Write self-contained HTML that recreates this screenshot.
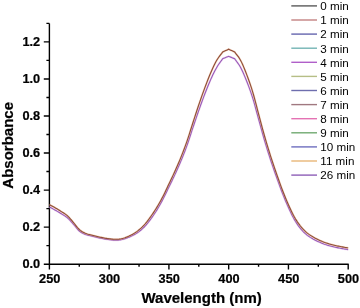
<!DOCTYPE html>
<html><head><meta charset="utf-8"><style>
html,body{margin:0;padding:0;background:#fff;width:360px;height:308px;overflow:hidden}
svg{display:block;will-change:transform}
text{font-family:"Liberation Sans",sans-serif;fill:#000}
.tl,.at{stroke:#000;stroke-width:0.22px}
.tl{font-size:12.75px;font-weight:bold}
.at{font-size:15px;font-weight:bold}
.lg{font-size:11.65px}
</style></head><body>
<svg width="360" height="308" viewBox="0 0 360 308">
<path d="M49.4,264.2 H348.7 M49.4,264.95 V23.4" stroke="#000" stroke-width="1.4" fill="none"/>
<path d="M49.4,264.20 h-5.6 M49.4,245.67 h-3.0 M49.4,227.15 h-5.6 M49.4,208.62 h-3.0 M49.4,190.10 h-5.6 M49.4,171.57 h-3.0 M49.4,153.05 h-5.6 M49.4,134.52 h-3.0 M49.4,116.00 h-5.6 M49.4,97.47 h-3.0 M49.4,78.95 h-5.6 M49.4,60.42 h-3.0 M49.4,41.90 h-5.6 M49.4,23.37 h-3.0 M49.40,264.2 v5.2 M79.28,264.2 v2.6 M109.16,264.2 v5.2 M139.04,264.2 v2.6 M168.92,264.2 v5.2 M198.80,264.2 v2.6 M228.68,264.2 v5.2 M258.56,264.2 v2.6 M288.44,264.2 v5.2 M318.32,264.2 v2.6 M348.20,264.2 v5.2" stroke="#000" stroke-width="1.4" fill="none"/>
<text x="40.2" y="268.10" text-anchor="end" class="tl">0.0</text>
<text x="40.2" y="231.05" text-anchor="end" class="tl">0.2</text>
<text x="40.2" y="194.00" text-anchor="end" class="tl">0.4</text>
<text x="40.2" y="156.95" text-anchor="end" class="tl">0.6</text>
<text x="40.2" y="119.90" text-anchor="end" class="tl">0.8</text>
<text x="40.2" y="82.85" text-anchor="end" class="tl">1.0</text>
<text x="40.2" y="45.80" text-anchor="end" class="tl">1.2</text>
<text x="49.70" y="282.8" text-anchor="middle" class="tl">250</text>
<text x="109.46" y="282.8" text-anchor="middle" class="tl">300</text>
<text x="169.22" y="282.8" text-anchor="middle" class="tl">350</text>
<text x="228.98" y="282.8" text-anchor="middle" class="tl">400</text>
<text x="288.74" y="282.8" text-anchor="middle" class="tl">450</text>
<text x="348.50" y="282.8" text-anchor="middle" class="tl">500</text>
<text x="201.6" y="302.9" text-anchor="middle" class="at">Wavelength (nm)</text>
<text transform="translate(12.7,145.3) rotate(-90)" x="0" y="0" text-anchor="middle" class="at">Absorbance</text>
<path d="M49.40,207.04 L50.40,207.56 L51.39,208.08 L52.39,208.60 L53.38,209.13 L54.38,209.67 L55.38,210.22 L56.37,210.79 L57.37,211.37 L58.36,211.96 L59.36,212.56 L60.36,213.17 L61.35,213.79 L62.35,214.40 L63.34,214.99 L64.34,215.60 L65.34,216.24 L66.33,216.94 L67.33,217.75 L68.32,218.66 L69.32,219.67 L70.32,220.74 L71.31,221.86 L72.31,222.98 L73.30,224.10 L74.30,225.25 L75.30,226.47 L76.29,227.71 L77.29,228.90 L78.28,230.00 L79.28,230.96 L80.28,231.75 L81.27,232.42 L82.27,233.01 L83.26,233.51 L84.26,233.97 L85.26,234.40 L86.25,234.78 L87.25,235.09 L88.24,235.35 L89.24,235.58 L90.24,235.80 L91.23,236.04 L92.23,236.30 L93.22,236.54 L94.22,236.78 L95.22,237.01 L96.21,237.24 L97.21,237.47 L98.20,237.69 L99.20,237.91 L100.20,238.13 L101.19,238.33 L102.19,238.53 L103.18,238.72 L104.18,238.91 L105.18,239.09 L106.17,239.26 L107.17,239.41 L108.16,239.56 L109.16,239.69 L110.16,239.81 L111.15,239.92 L112.15,240.02 L113.14,240.10 L114.14,240.16 L115.14,240.18 L116.13,240.17 L117.13,240.15 L118.12,240.09 L119.12,240.01 L120.12,239.89 L121.11,239.72 L122.11,239.52 L123.10,239.27 L124.10,238.98 L125.10,238.67 L126.09,238.33 L127.09,237.97 L128.08,237.60 L129.08,237.21 L130.08,236.79 L131.07,236.34 L132.07,235.86 L133.06,235.35 L134.06,234.81 L135.06,234.23 L136.05,233.63 L137.05,232.99 L138.04,232.30 L139.04,231.57 L140.04,230.79 L141.03,229.98 L142.03,229.12 L143.02,228.22 L144.02,227.25 L145.02,226.22 L146.01,225.12 L147.01,223.95 L148.00,222.72 L149.00,221.45 L150.00,220.13 L150.99,218.78 L151.99,217.39 L152.98,215.97 L153.98,214.51 L154.98,213.00 L155.97,211.45 L156.97,209.84 L157.96,208.19 L158.96,206.49 L159.96,204.75 L160.95,202.96 L161.95,201.12 L162.94,199.24 L163.94,197.30 L164.94,195.30 L165.93,193.25 L166.93,191.17 L167.92,189.09 L168.92,187.03 L169.92,184.99 L170.91,182.95 L171.91,180.91 L172.90,178.85 L173.90,176.76 L174.90,174.63 L175.89,172.47 L176.89,170.29 L177.88,168.07 L178.88,165.82 L179.88,163.52 L180.87,161.16 L181.87,158.75 L182.86,156.30 L183.86,153.81 L184.86,151.25 L185.85,148.62 L186.85,145.90 L187.84,143.05 L188.84,140.10 L189.84,137.06 L190.83,134.00 L191.83,130.94 L192.82,127.94 L193.82,124.98 L194.82,122.01 L195.81,119.06 L196.81,116.13 L197.80,113.23 L198.80,110.38 L199.80,107.57 L200.79,104.79 L201.79,102.04 L202.78,99.34 L203.78,96.68 L204.78,94.07 L205.77,91.50 L206.77,88.96 L207.76,86.47 L208.76,84.03 L209.76,81.67 L210.75,79.40 L211.75,77.21 L212.74,75.09 L213.74,73.05 L214.74,71.09 L215.73,69.21 L216.73,67.44 L217.72,65.79 L218.72,64.29 L219.72,62.87 L220.71,61.49 L221.71,60.12 L222.70,58.70 L223.70,58.30 L224.70,57.90 L225.69,57.50 L226.69,57.10 L227.68,56.70 L228.68,56.30 L229.68,56.72 L230.67,57.13 L231.67,57.55 L232.66,57.97 L233.66,58.38 L234.66,58.80 L235.65,60.20 L236.65,61.53 L237.64,62.87 L238.64,64.27 L239.64,65.80 L240.63,67.53 L241.63,69.47 L242.62,71.57 L243.62,73.80 L244.62,76.13 L245.61,78.56 L246.61,81.04 L247.60,83.57 L248.60,86.17 L249.60,88.85 L250.59,91.64 L251.59,94.56 L252.58,97.64 L253.58,100.93 L254.58,104.42 L255.57,108.05 L256.57,111.74 L257.56,115.44 L258.56,119.06 L259.56,122.66 L260.55,126.29 L261.55,129.92 L262.54,133.52 L263.54,137.06 L264.54,140.50 L265.53,143.85 L266.53,147.14 L267.52,150.36 L268.52,153.53 L269.52,156.65 L270.51,159.72 L271.51,162.74 L272.50,165.69 L273.50,168.60 L274.50,171.46 L275.49,174.29 L276.49,177.10 L277.48,179.90 L278.48,182.68 L279.48,185.43 L280.47,188.13 L281.47,190.78 L282.46,193.36 L283.46,195.87 L284.46,198.33 L285.45,200.74 L286.45,203.08 L287.44,205.37 L288.44,207.59 L289.44,209.76 L290.43,211.89 L291.43,213.96 L292.42,215.95 L293.42,217.85 L294.42,219.65 L295.41,221.33 L296.41,222.92 L297.40,224.41 L298.40,225.83 L299.40,227.16 L300.39,228.43 L301.39,229.63 L302.38,230.74 L303.38,231.77 L304.38,232.74 L305.37,233.65 L306.37,234.52 L307.36,235.32 L308.36,236.05 L309.36,236.73 L310.35,237.37 L311.35,237.97 L312.34,238.57 L313.34,239.15 L314.34,239.69 L315.33,240.21 L316.33,240.71 L317.32,241.19 L318.32,241.66 L319.32,242.12 L320.31,242.56 L321.31,242.99 L322.30,243.40 L323.30,243.79 L324.30,244.17 L325.29,244.52 L326.29,244.84 L327.28,245.15 L328.28,245.44 L329.28,245.72 L330.27,246.00 L331.27,246.27 L332.26,246.52 L333.26,246.77 L334.26,247.00 L335.25,247.23 L336.25,247.45 L337.24,247.66 L338.24,247.86 L339.24,248.05 L340.23,248.24 L341.23,248.42 L342.22,248.61 L343.22,248.79 L344.22,248.97 L345.21,249.14 L346.21,249.32 L347.20,249.49 L348.20,249.67" stroke="#e0a8e0" stroke-width="2.1" stroke-opacity="0.4" fill="none"/>
<path d="M49.40,207.04 L50.40,207.56 L51.39,208.08 L52.39,208.60 L53.38,209.13 L54.38,209.67 L55.38,210.22 L56.37,210.79 L57.37,211.37 L58.36,211.96 L59.36,212.56 L60.36,213.17 L61.35,213.79 L62.35,214.40 L63.34,214.99 L64.34,215.60 L65.34,216.24 L66.33,216.94 L67.33,217.75 L68.32,218.66 L69.32,219.67 L70.32,220.74 L71.31,221.86 L72.31,222.98 L73.30,224.10 L74.30,225.25 L75.30,226.47 L76.29,227.71 L77.29,228.90 L78.28,230.00 L79.28,230.96 L80.28,231.75 L81.27,232.42 L82.27,233.01 L83.26,233.51 L84.26,233.97 L85.26,234.40 L86.25,234.78 L87.25,235.09 L88.24,235.35 L89.24,235.58 L90.24,235.80 L91.23,236.04 L92.23,236.30 L93.22,236.54 L94.22,236.78 L95.22,237.01 L96.21,237.24 L97.21,237.47 L98.20,237.69 L99.20,237.91 L100.20,238.13 L101.19,238.33 L102.19,238.53 L103.18,238.72 L104.18,238.91 L105.18,239.09 L106.17,239.26 L107.17,239.41 L108.16,239.56 L109.16,239.69 L110.16,239.81 L111.15,239.92 L112.15,240.02 L113.14,240.10 L114.14,240.16 L115.14,240.18 L116.13,240.17 L117.13,240.15 L118.12,240.09 L119.12,240.01 L120.12,239.89 L121.11,239.72 L122.11,239.52 L123.10,239.27 L124.10,238.98 L125.10,238.67 L126.09,238.33 L127.09,237.97 L128.08,237.60 L129.08,237.21 L130.08,236.79 L131.07,236.34 L132.07,235.86 L133.06,235.35 L134.06,234.81 L135.06,234.23 L136.05,233.63 L137.05,232.99 L138.04,232.30 L139.04,231.57 L140.04,230.79 L141.03,229.98 L142.03,229.12 L143.02,228.22 L144.02,227.25 L145.02,226.22 L146.01,225.12 L147.01,223.95 L148.00,222.72 L149.00,221.45 L150.00,220.13 L150.99,218.78 L151.99,217.39 L152.98,215.97 L153.98,214.51 L154.98,213.00 L155.97,211.45 L156.97,209.84 L157.96,208.19 L158.96,206.49 L159.96,204.75 L160.95,202.96 L161.95,201.12 L162.94,199.24 L163.94,197.30 L164.94,195.30 L165.93,193.25 L166.93,191.17 L167.92,189.09 L168.92,187.03 L169.92,184.99 L170.91,182.95 L171.91,180.91 L172.90,178.85 L173.90,176.76 L174.90,174.63 L175.89,172.47 L176.89,170.29 L177.88,168.07 L178.88,165.82 L179.88,163.52 L180.87,161.16 L181.87,158.75 L182.86,156.30 L183.86,153.81 L184.86,151.25 L185.85,148.62 L186.85,145.90 L187.84,143.05 L188.84,140.10 L189.84,137.06 L190.83,134.00 L191.83,130.94 L192.82,127.94 L193.82,124.98 L194.82,122.01 L195.81,119.06 L196.81,116.13 L197.80,113.23 L198.80,110.38 L199.80,107.57 L200.79,104.79 L201.79,102.04 L202.78,99.34 L203.78,96.68 L204.78,94.07 L205.77,91.50 L206.77,88.96 L207.76,86.47 L208.76,84.03 L209.76,81.67 L210.75,79.40 L211.75,77.21 L212.74,75.09 L213.74,73.05 L214.74,71.09 L215.73,69.21 L216.73,67.44 L217.72,65.79 L218.72,64.29 L219.72,62.87 L220.71,61.49 L221.71,60.12 L222.70,58.70 L223.70,58.30 L224.70,57.90 L225.69,57.50 L226.69,57.10 L227.68,56.70 L228.68,56.30 L229.68,56.72 L230.67,57.13 L231.67,57.55 L232.66,57.97 L233.66,58.38 L234.66,58.80 L235.65,60.20 L236.65,61.53 L237.64,62.87 L238.64,64.27 L239.64,65.80 L240.63,67.53 L241.63,69.47 L242.62,71.57 L243.62,73.80 L244.62,76.13 L245.61,78.56 L246.61,81.04 L247.60,83.57 L248.60,86.17 L249.60,88.85 L250.59,91.64 L251.59,94.56 L252.58,97.64 L253.58,100.93 L254.58,104.42 L255.57,108.05 L256.57,111.74 L257.56,115.44 L258.56,119.06 L259.56,122.66 L260.55,126.29 L261.55,129.92 L262.54,133.52 L263.54,137.06 L264.54,140.50 L265.53,143.85 L266.53,147.14 L267.52,150.36 L268.52,153.53 L269.52,156.65 L270.51,159.72 L271.51,162.74 L272.50,165.69 L273.50,168.60 L274.50,171.46 L275.49,174.29 L276.49,177.10 L277.48,179.90 L278.48,182.68 L279.48,185.43 L280.47,188.13 L281.47,190.78 L282.46,193.36 L283.46,195.87 L284.46,198.33 L285.45,200.74 L286.45,203.08 L287.44,205.37 L288.44,207.59 L289.44,209.76 L290.43,211.89 L291.43,213.96 L292.42,215.95 L293.42,217.85 L294.42,219.65 L295.41,221.33 L296.41,222.92 L297.40,224.41 L298.40,225.83 L299.40,227.16 L300.39,228.43 L301.39,229.63 L302.38,230.74 L303.38,231.77 L304.38,232.74 L305.37,233.65 L306.37,234.52 L307.36,235.32 L308.36,236.05 L309.36,236.73 L310.35,237.37 L311.35,237.97 L312.34,238.57 L313.34,239.15 L314.34,239.69 L315.33,240.21 L316.33,240.71 L317.32,241.19 L318.32,241.66 L319.32,242.12 L320.31,242.56 L321.31,242.99 L322.30,243.40 L323.30,243.79 L324.30,244.17 L325.29,244.52 L326.29,244.84 L327.28,245.15 L328.28,245.44 L329.28,245.72 L330.27,246.00 L331.27,246.27 L332.26,246.52 L333.26,246.77 L334.26,247.00 L335.25,247.23 L336.25,247.45 L337.24,247.66 L338.24,247.86 L339.24,248.05 L340.23,248.24 L341.23,248.42 L342.22,248.61 L343.22,248.79 L344.22,248.97 L345.21,249.14 L346.21,249.32 L347.20,249.49 L348.20,249.67" stroke="#985cb8" stroke-width="1.1" fill="none"/>
<path d="M49.40,204.60 L50.40,205.15 L51.39,205.69 L52.39,206.22 L53.38,206.77 L54.38,207.33 L55.38,207.90 L56.37,208.49 L57.37,209.09 L58.36,209.70 L59.36,210.32 L60.36,210.96 L61.35,211.60 L62.35,212.23 L63.34,212.84 L64.34,213.47 L65.34,214.13 L66.33,214.87 L67.33,215.70 L68.32,216.65 L69.32,217.69 L70.32,218.81 L71.31,219.96 L72.31,221.14 L73.30,222.30 L74.30,223.51 L75.30,224.79 L76.29,226.08 L77.29,227.34 L78.28,228.50 L79.28,229.50 L80.28,230.34 L81.27,231.06 L82.27,231.69 L83.26,232.24 L84.26,232.73 L85.26,233.20 L86.25,233.61 L87.25,233.95 L88.24,234.24 L89.24,234.49 L90.24,234.74 L91.23,235.00 L92.23,235.27 L93.22,235.53 L94.22,235.78 L95.22,236.03 L96.21,236.27 L97.21,236.50 L98.20,236.73 L99.20,236.96 L100.20,237.18 L101.19,237.40 L102.19,237.60 L103.18,237.80 L104.18,237.99 L105.18,238.17 L106.17,238.35 L107.17,238.51 L108.16,238.67 L109.16,238.80 L110.16,238.92 L111.15,239.04 L112.15,239.14 L113.14,239.23 L114.14,239.28 L115.14,239.30 L116.13,239.29 L117.13,239.26 L118.12,239.20 L119.12,239.11 L120.12,238.98 L121.11,238.80 L122.11,238.58 L123.10,238.31 L124.10,238.00 L125.10,237.66 L126.09,237.29 L127.09,236.90 L128.08,236.49 L129.08,236.06 L130.08,235.59 L131.07,235.10 L132.07,234.57 L133.06,234.00 L134.06,233.39 L135.06,232.76 L136.05,232.08 L137.05,231.37 L138.04,230.61 L139.04,229.80 L140.04,228.95 L141.03,228.06 L142.03,227.12 L143.02,226.14 L144.02,225.10 L145.02,224.00 L146.01,222.83 L147.01,221.60 L148.00,220.31 L149.00,218.97 L150.00,217.60 L150.99,216.20 L151.99,214.78 L152.98,213.32 L153.98,211.83 L154.98,210.30 L155.97,208.72 L156.97,207.10 L157.96,205.43 L158.96,203.71 L159.96,201.96 L160.95,200.15 L161.95,198.30 L162.94,196.40 L163.94,194.44 L164.94,192.40 L165.93,190.33 L166.93,188.22 L167.92,186.10 L168.92,184.00 L169.92,181.91 L170.91,179.83 L171.91,177.74 L172.90,175.63 L173.90,173.49 L174.90,171.30 L175.89,169.07 L176.89,166.83 L177.88,164.54 L178.88,162.22 L179.88,159.84 L180.87,157.40 L181.87,154.91 L182.86,152.38 L183.86,149.79 L184.86,147.14 L185.85,144.42 L186.85,141.60 L187.84,138.66 L188.84,135.59 L189.84,132.45 L190.83,129.27 L191.83,126.11 L192.82,123.00 L193.82,119.93 L194.82,116.86 L195.81,113.79 L196.81,110.76 L197.80,107.75 L198.80,104.80 L199.80,101.89 L200.79,99.01 L201.79,96.16 L202.78,93.36 L203.78,90.60 L204.78,87.90 L205.77,85.24 L206.77,82.60 L207.76,80.02 L208.76,77.50 L209.76,75.05 L210.75,72.70 L211.75,70.42 L212.74,68.21 L213.74,66.07 L214.74,64.03 L215.73,62.10 L216.73,60.30 L217.72,58.68 L218.72,57.23 L219.72,55.89 L220.71,54.61 L221.71,53.34 L222.70,52.00 L223.70,51.53 L224.70,51.07 L225.69,50.60 L226.69,50.13 L227.68,49.67 L228.68,49.20 L229.68,49.67 L230.67,50.13 L231.67,50.60 L232.66,51.07 L233.66,51.53 L234.66,52.00 L235.65,53.34 L236.65,54.59 L237.64,55.85 L238.64,57.19 L239.64,58.68 L240.63,60.40 L241.63,62.37 L242.62,64.53 L243.62,66.85 L244.62,69.29 L245.61,71.82 L246.61,74.40 L247.60,77.02 L248.60,79.71 L249.60,82.49 L250.59,85.38 L251.59,88.41 L252.58,91.60 L253.58,95.01 L254.58,98.63 L255.57,102.39 L256.57,106.21 L257.56,110.04 L258.56,113.80 L259.56,117.53 L260.55,121.29 L261.55,125.05 L262.54,128.78 L263.54,132.44 L264.54,136.00 L265.53,139.46 L266.53,142.85 L267.52,146.18 L268.52,149.44 L269.52,152.64 L270.51,155.80 L271.51,158.90 L272.50,161.93 L273.50,164.90 L274.50,167.83 L275.49,170.73 L276.49,173.60 L277.48,176.46 L278.48,179.30 L279.48,182.11 L280.47,184.87 L281.47,187.57 L282.46,190.20 L283.46,192.76 L284.46,195.27 L285.45,197.72 L286.45,200.11 L287.44,202.43 L288.44,204.70 L289.44,206.92 L290.43,209.09 L291.43,211.19 L292.42,213.23 L293.42,215.17 L294.42,217.00 L295.41,218.72 L296.41,220.34 L297.40,221.87 L298.40,223.32 L299.40,224.69 L300.39,226.00 L301.39,227.23 L302.38,228.38 L303.38,229.45 L304.38,230.46 L305.37,231.40 L306.37,232.30 L307.36,233.13 L308.36,233.89 L309.36,234.59 L310.35,235.25 L311.35,235.88 L312.34,236.50 L313.34,237.10 L314.34,237.66 L315.33,238.20 L316.33,238.71 L317.32,239.21 L318.32,239.70 L319.32,240.18 L320.31,240.64 L321.31,241.08 L322.30,241.51 L323.30,241.91 L324.30,242.30 L325.29,242.66 L326.29,243.00 L327.28,243.32 L328.28,243.62 L329.28,243.91 L330.27,244.20 L331.27,244.48 L332.26,244.74 L333.26,244.99 L334.26,245.24 L335.25,245.47 L336.25,245.70 L337.24,245.92 L338.24,246.13 L339.24,246.32 L340.23,246.52 L341.23,246.71 L342.22,246.90 L343.22,247.09 L344.22,247.27 L345.21,247.46 L346.21,247.64 L347.20,247.82 L348.20,248.00" stroke="#e8a878" stroke-width="2.0" stroke-opacity="0.45" fill="none"/>
<path d="M49.40,204.60 L50.40,205.15 L51.39,205.69 L52.39,206.22 L53.38,206.77 L54.38,207.33 L55.38,207.90 L56.37,208.49 L57.37,209.09 L58.36,209.70 L59.36,210.32 L60.36,210.96 L61.35,211.60 L62.35,212.23 L63.34,212.84 L64.34,213.47 L65.34,214.13 L66.33,214.87 L67.33,215.70 L68.32,216.65 L69.32,217.69 L70.32,218.81 L71.31,219.96 L72.31,221.14 L73.30,222.30 L74.30,223.51 L75.30,224.79 L76.29,226.08 L77.29,227.34 L78.28,228.50 L79.28,229.50 L80.28,230.34 L81.27,231.06 L82.27,231.69 L83.26,232.24 L84.26,232.73 L85.26,233.20 L86.25,233.61 L87.25,233.95 L88.24,234.24 L89.24,234.49 L90.24,234.74 L91.23,235.00 L92.23,235.27 L93.22,235.53 L94.22,235.78 L95.22,236.03 L96.21,236.27 L97.21,236.50 L98.20,236.73 L99.20,236.96 L100.20,237.18 L101.19,237.40 L102.19,237.60 L103.18,237.80 L104.18,237.99 L105.18,238.17 L106.17,238.35 L107.17,238.51 L108.16,238.67 L109.16,238.80 L110.16,238.92 L111.15,239.04 L112.15,239.14 L113.14,239.23 L114.14,239.28 L115.14,239.30 L116.13,239.29 L117.13,239.26 L118.12,239.20 L119.12,239.11 L120.12,238.98 L121.11,238.80 L122.11,238.58 L123.10,238.31 L124.10,238.00 L125.10,237.66 L126.09,237.29 L127.09,236.90 L128.08,236.49 L129.08,236.06 L130.08,235.59 L131.07,235.10 L132.07,234.57 L133.06,234.00 L134.06,233.39 L135.06,232.76 L136.05,232.08 L137.05,231.37 L138.04,230.61 L139.04,229.80 L140.04,228.95 L141.03,228.06 L142.03,227.12 L143.02,226.14 L144.02,225.10 L145.02,224.00 L146.01,222.83 L147.01,221.60 L148.00,220.31 L149.00,218.97 L150.00,217.60 L150.99,216.20 L151.99,214.78 L152.98,213.32 L153.98,211.83 L154.98,210.30 L155.97,208.72 L156.97,207.10 L157.96,205.43 L158.96,203.71 L159.96,201.96 L160.95,200.15 L161.95,198.30 L162.94,196.40 L163.94,194.44 L164.94,192.40 L165.93,190.33 L166.93,188.22 L167.92,186.10 L168.92,184.00 L169.92,181.91 L170.91,179.83 L171.91,177.74 L172.90,175.63 L173.90,173.49 L174.90,171.30 L175.89,169.07 L176.89,166.83 L177.88,164.54 L178.88,162.22 L179.88,159.84 L180.87,157.40 L181.87,154.91 L182.86,152.38 L183.86,149.79 L184.86,147.14 L185.85,144.42 L186.85,141.60 L187.84,138.66 L188.84,135.59 L189.84,132.45 L190.83,129.27 L191.83,126.11 L192.82,123.00 L193.82,119.93 L194.82,116.86 L195.81,113.79 L196.81,110.76 L197.80,107.75 L198.80,104.80 L199.80,101.89 L200.79,99.01 L201.79,96.16 L202.78,93.36 L203.78,90.60 L204.78,87.90 L205.77,85.24 L206.77,82.60 L207.76,80.02 L208.76,77.50 L209.76,75.05 L210.75,72.70 L211.75,70.42 L212.74,68.21 L213.74,66.07 L214.74,64.03 L215.73,62.10 L216.73,60.30 L217.72,58.68 L218.72,57.23 L219.72,55.89 L220.71,54.61 L221.71,53.34 L222.70,52.00 L223.70,51.53 L224.70,51.07 L225.69,50.60 L226.69,50.13 L227.68,49.67 L228.68,49.20 L229.68,49.67 L230.67,50.13 L231.67,50.60 L232.66,51.07 L233.66,51.53 L234.66,52.00 L235.65,53.34 L236.65,54.59 L237.64,55.85 L238.64,57.19 L239.64,58.68 L240.63,60.40 L241.63,62.37 L242.62,64.53 L243.62,66.85 L244.62,69.29 L245.61,71.82 L246.61,74.40 L247.60,77.02 L248.60,79.71 L249.60,82.49 L250.59,85.38 L251.59,88.41 L252.58,91.60 L253.58,95.01 L254.58,98.63 L255.57,102.39 L256.57,106.21 L257.56,110.04 L258.56,113.80 L259.56,117.53 L260.55,121.29 L261.55,125.05 L262.54,128.78 L263.54,132.44 L264.54,136.00 L265.53,139.46 L266.53,142.85 L267.52,146.18 L268.52,149.44 L269.52,152.64 L270.51,155.80 L271.51,158.90 L272.50,161.93 L273.50,164.90 L274.50,167.83 L275.49,170.73 L276.49,173.60 L277.48,176.46 L278.48,179.30 L279.48,182.11 L280.47,184.87 L281.47,187.57 L282.46,190.20 L283.46,192.76 L284.46,195.27 L285.45,197.72 L286.45,200.11 L287.44,202.43 L288.44,204.70 L289.44,206.92 L290.43,209.09 L291.43,211.19 L292.42,213.23 L293.42,215.17 L294.42,217.00 L295.41,218.72 L296.41,220.34 L297.40,221.87 L298.40,223.32 L299.40,224.69 L300.39,226.00 L301.39,227.23 L302.38,228.38 L303.38,229.45 L304.38,230.46 L305.37,231.40 L306.37,232.30 L307.36,233.13 L308.36,233.89 L309.36,234.59 L310.35,235.25 L311.35,235.88 L312.34,236.50 L313.34,237.10 L314.34,237.66 L315.33,238.20 L316.33,238.71 L317.32,239.21 L318.32,239.70 L319.32,240.18 L320.31,240.64 L321.31,241.08 L322.30,241.51 L323.30,241.91 L324.30,242.30 L325.29,242.66 L326.29,243.00 L327.28,243.32 L328.28,243.62 L329.28,243.91 L330.27,244.20 L331.27,244.48 L332.26,244.74 L333.26,244.99 L334.26,245.24 L335.25,245.47 L336.25,245.70 L337.24,245.92 L338.24,246.13 L339.24,246.32 L340.23,246.52 L341.23,246.71 L342.22,246.90 L343.22,247.09 L344.22,247.27 L345.21,247.46 L346.21,247.64 L347.20,247.82 L348.20,248.00" stroke="#8e4c38" stroke-width="1.1" fill="none"/>
<path d="M291.3,5.90 H317" stroke="#5a5a5a" stroke-width="1.4"/>
<text x="320.3" y="10.20" class="lg">0 min</text>
<path d="M291.3,20.00 H317" stroke="#c38282" stroke-width="1.4"/>
<text x="320.3" y="24.30" class="lg">1 min</text>
<path d="M291.3,34.10 H317" stroke="#6565ae" stroke-width="1.4"/>
<text x="320.3" y="38.40" class="lg">2 min</text>
<path d="M291.3,48.20 H317" stroke="#73b4b4" stroke-width="1.4"/>
<text x="320.3" y="52.50" class="lg">3 min</text>
<path d="M291.3,62.30 H317" stroke="#b05fc9" stroke-width="1.4"/>
<text x="320.3" y="66.60" class="lg">4 min</text>
<path d="M291.3,76.40 H317" stroke="#b6be86" stroke-width="1.4"/>
<text x="320.3" y="80.70" class="lg">5 min</text>
<path d="M291.3,90.50 H317" stroke="#6e6eae" stroke-width="1.4"/>
<text x="320.3" y="94.80" class="lg">6 min</text>
<path d="M291.3,104.60 H317" stroke="#a07880" stroke-width="1.4"/>
<text x="320.3" y="108.90" class="lg">7 min</text>
<path d="M291.3,118.70 H317" stroke="#e472b3" stroke-width="1.4"/>
<text x="320.3" y="123.00" class="lg">8 min</text>
<path d="M291.3,132.80 H317" stroke="#71aa71" stroke-width="1.4"/>
<text x="320.3" y="137.10" class="lg">9 min</text>
<path d="M291.3,146.90 H317" stroke="#6e6ebf" stroke-width="1.4"/>
<text x="320.3" y="151.20" class="lg">10 min</text>
<path d="M291.3,161.00 H317" stroke="#e8b777" stroke-width="1.4"/>
<text x="320.3" y="165.30" class="lg">11 min</text>
<path d="M291.3,175.10 H317" stroke="#8e5eb7" stroke-width="1.4"/>
<text x="320.3" y="179.40" class="lg">26 min</text>
</svg>
</body></html>
